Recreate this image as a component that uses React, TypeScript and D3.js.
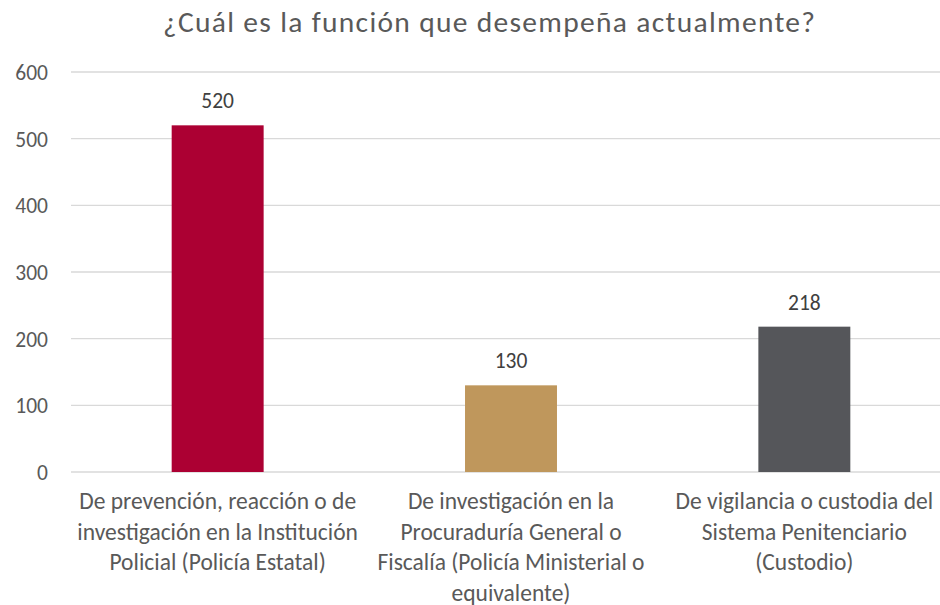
import React from "react";
import * as d3 from "d3";

const title = "¿Cuál es la función que desempeña actualmente?";
const categories = [
  "De prevención, reacción o de investigación en la Institución Policial (Policía Estatal)",
  "De investigación en la Procuraduría General o Fiscalía (Policía Ministerial o equivalente)",
  "De vigilancia o custodia del Sistema Penitenciario (Custodio)",
];
const categoryLines = [
  ["De prevención, reacción o de", "investigación en la Institución", "Policial (Policía Estatal)"],
  ["De investigación en la", "Procuraduría General o", "Fiscalía (Policía Ministerial o", "equivalente)"],
  ["De vigilancia o custodia del", "Sistema Penitenciario", "(Custodio)"],
];
const values = [520, 130, 218];
const colors = ["#ac0033", "#bf975c", "#55565a"];
const yTicks = [0, 100, 200, 300, 400, 500, 600];

const W = 940;
const H = 605;
const FONT = "Carlito, Calibri, Lato, 'Open Sans', sans-serif";

export default function App() {
  const x = d3.scaleBand<string>().domain(categories).range([71, 951]).paddingInner(0.6865).paddingOuter(0.3432);
  const y = d3.scaleLinear().domain([0, 600]).range([472, 72]);

  return (
    <svg width={W} height={H} style={{ position: "absolute", left: 0, top: 0, background: "#fff" }} fontFamily={FONT}>
      <text x={489} y={32} textAnchor="middle" fontSize={29.5} fill="#595959" textLength={652} lengthAdjust="spacing">{title}</text>
      {yTicks.map((t) => (
        <g key={t}>
          <line x1={71} x2={W} y1={y(t)} y2={y(t)} stroke="#d9d9d9" strokeWidth={1.3} />
          <text x={48} y={y(t) + 8} textAnchor="end" fontSize={21.5} fill="#595959">{t}</text>
        </g>
      ))}
      {categories.map((c, i) => (
        <g key={c}>
          <rect x={x(c)} y={y(values[i])} width={x.bandwidth()} height={y(0) - y(values[i])} fill={colors[i]} />
          <text x={(x(c) as number) + x.bandwidth() / 2} y={y(values[i]) - 17} textAnchor="middle" fontSize={21.5} fill="#404040">{values[i]}</text>
          {categoryLines[i].map((l, j) => (
            <text key={j} x={(x(c) as number) + x.bandwidth() / 2} y={509 + j * 30.5} textAnchor="middle" fontSize={23.5} fill="#595959">{l}</text>
          ))}
        </g>
      ))}
    </svg>
  );
}
